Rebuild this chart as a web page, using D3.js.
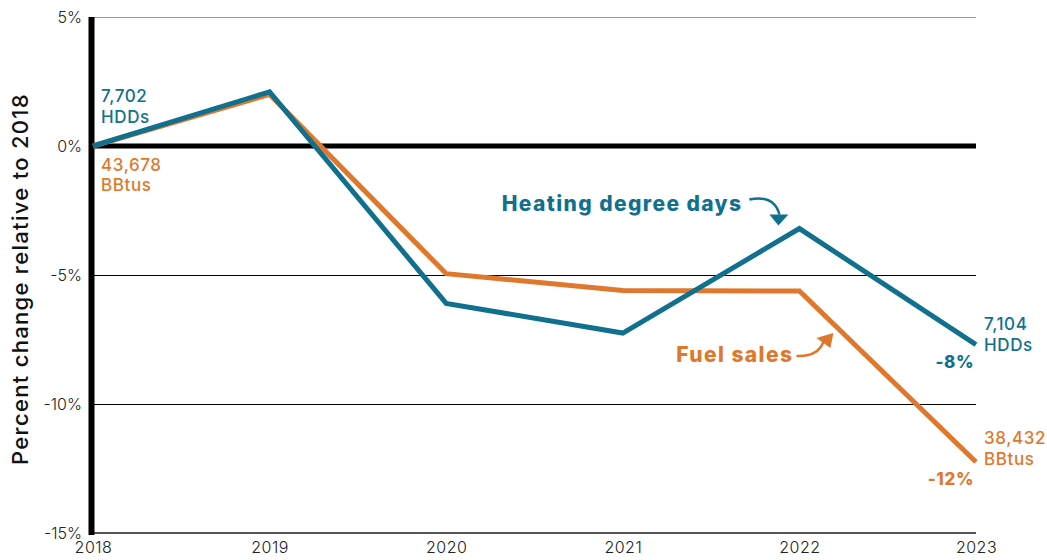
<!DOCTYPE html>
<html><head><meta charset="utf-8">
<script src="https://cdn.jsdelivr.net/npm/d3@7"></script>
<style>
html,body{margin:0;padding:0;background:#fff;}
svg{display:block;font-family:"Inter","Lato",sans-serif;}
</style></head>
<body><svg id="chart" width="1047" height="560"></svg>
<script>
const years = [2018, 2019, 2020, 2021, 2022, 2023];
const hddPct = [0, 2.1, -6.1, -7.25, -3.2, -7.7];
const fuelPct = [0, 2.0, -4.95, -5.6, -5.62, -12.25];
const yTicks = [5, 0, -5, -10, -15];
const yTickLabels = ["5%", "0%", "-5%", "-10%", "-15%"];
const hddStart = ["7,702", "HDDs"], hddEnd = ["7,104", "HDDs"], hddChange = "-8%";
const fuelStart = ["43,678", "BBtus"], fuelEnd = ["38,432", "BBtus"], fuelChange = "-12%";
const hddName = "Heating degree days", fuelName = "Fuel sales";
const yTitle = "Percent change relative to 2018";

const TEAL = "#11708D", ORANGE = "#DF782C";
const svg = d3.select("#chart");
const x = d3.scaleLinear().domain([2018, 2023]).range([93, 976]);
const y = d3.scaleLinear().domain([-15, 5]).range([533, 17]);

// gridlines
const grid = svg.append("g");
yTicks.forEach(t => {
  let stroke = "#000", w = 1, off = 0.5;
  if (t === 5) { stroke = "#9a9a9a"; }
  if (t === -15) { stroke = "#555"; w = 2; off = 0; }
  if (t === 0) { stroke = "#000"; w = 5; off = 0; }
  const yy = Math.round(y(t)) + off;
  grid.append("line").attr("x1", x(2018)).attr("x2", x(2023))
    .attr("y1", yy).attr("y2", yy).attr("stroke", stroke).attr("stroke-width", w);
});

// y axis thick bar
svg.append("line").attr("x1", x(2018) - 1.5).attr("x2", x(2018) - 1.5)
  .attr("y1", y(5)).attr("y2", y(-15) + 2).attr("stroke", "#000").attr("stroke-width", 6);

// y tick labels
const yAxis = d3.axisLeft(y).tickValues(yTicks).tickSize(0).tickPadding(0)
  .tickFormat((d, i) => yTickLabels[i]);
const ya = svg.append("g").attr("transform", `translate(${x(2018) - 11},0)`).call(yAxis);
ya.select(".domain").remove();
ya.selectAll("text").attr("font-size", 16).attr("font-weight", 300).attr("fill", "#222")
  .attr("font-family", "Inter, sans-serif");

// x tick labels
const xAxis = d3.axisBottom(x).tickValues(years).tickSize(0).tickPadding(0).tickFormat(d3.format("d"));
const xa = svg.append("g").attr("transform", `translate(0,${y(-15) + 9})`).call(xAxis);
xa.select(".domain").remove();
xa.selectAll("text").attr("font-size", 16).attr("font-weight", 300).attr("fill", "#222")
  .attr("font-family", "Inter, sans-serif").attr("letter-spacing", 0.5);

// y title
svg.append("text").attr("transform", `translate(28,${(y(5) + y(-15)) / 2 + 4}) rotate(-90)`)
  .attr("text-anchor", "middle").attr("font-size", 22).attr("font-weight", 500)
  .attr("letter-spacing", 1.3).attr("fill", "#111").text(yTitle);

// lines
const line = d3.line().x((d, i) => x(years[i])).y(d => y(d));
svg.append("path").datum(fuelPct).attr("d", line).attr("fill", "none")
  .attr("stroke", ORANGE).attr("stroke-width", 5).attr("stroke-linejoin", "miter");
svg.append("path").datum(hddPct).attr("d", line).attr("fill", "none")
  .attr("stroke", TEAL).attr("stroke-width", 5).attr("stroke-linejoin", "miter");

// labels
function label(s, px, py, color, anchor, weight) {
  svg.append("text").attr("x", px).attr("y", py).attr("text-anchor", anchor || "start")
    .attr("fill", color).attr("font-size", 17).attr("font-weight", weight || 500)
    .attr("letter-spacing", 0.6).text(s);
}
const x0 = x(2018), y0 = y(0);
label(hddStart[0], x0 + 8, y0 - 44, TEAL);
label(hddStart[1], x0 + 8, y0 - 23, TEAL);
label(fuelStart[0], x0 + 8, y0 + 25, ORANGE);
label(fuelStart[1], x0 + 8, y0 + 45, ORANGE);

const xe = x(2023), hE = y(hddPct[5]), fE = y(fuelPct[5]);
label(hddEnd[0], xe + 8, hE - 15, TEAL);
label(hddEnd[1], xe + 8, hE + 6, TEAL);
label(hddChange, xe - 2, hE + 23, TEAL, "end", 800);
label(fuelEnd[0], xe + 8, fE - 18, ORANGE);
label(fuelEnd[1], xe + 8, fE + 3, ORANGE);
label(fuelChange, xe - 2, fE + 23, ORANGE, "end", 800);

// series name annotations
const hx = x(2022), hy = y(hddPct[4]);
svg.append("text").attr("x", hx - 57).attr("y", hy - 18).attr("text-anchor", "end")
  .attr("fill", TEAL).attr("font-size", 21).attr("font-weight", 800)
  .attr("letter-spacing", 1.4).text(hddName);
svg.append("path")
  .attr("d", `M${hx - 50},${hy - 29} Q${hx - 25},${hy - 34} ${hx - 20},${hy - 14}`)
  .attr("fill", "none").attr("stroke", TEAL).attr("stroke-width", 2.5);
svg.append("path")
  .attr("d", `M${hx - 30},${hy - 14} L${hx - 11},${hy - 14} L${hx - 21},${hy - 3} Z`)
  .attr("fill", TEAL);

const fx = x(2022), fy = y(fuelPct[4]);
svg.append("text").attr("x", fx - 6).attr("y", fy + 71).attr("text-anchor", "end")
  .attr("fill", ORANGE).attr("font-size", 21).attr("font-weight", 800)
  .attr("letter-spacing", 1.4).text(fuelName);
svg.append("path")
  .attr("d", `M${fx - 3},${fy + 65} Q${fx + 18},${fy + 66} ${fx + 24},${fy + 51}`)
  .attr("fill", "none").attr("stroke", ORANGE).attr("stroke-width", 2.5);
svg.append("path")
  .attr("d", `M${fx + 17},${fy + 47} L${fx + 34},${fy + 42} L${fx + 31},${fy + 57} Z`)
  .attr("fill", ORANGE);
</script></body></html>
